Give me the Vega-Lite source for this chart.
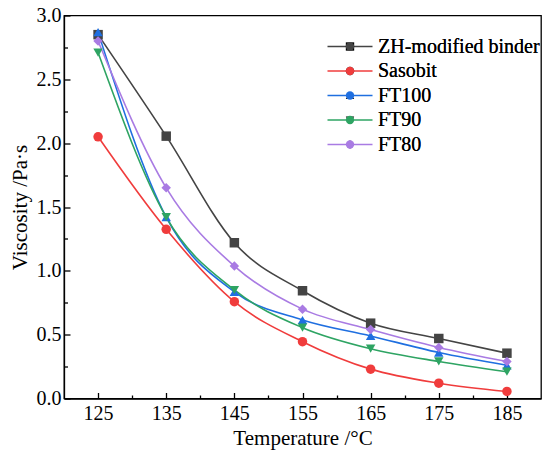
{
  "$schema": "https://vega.github.io/schema/vega-lite/v6.json",
  "width": 477,
  "height": 383,
  "autosize": {"type": "pad"},
  "padding": {"left": 9, "top": 5.5, "right": 5, "bottom": 5},
  "background": "white",
  "data": {
    "values": [
      {"T": 125, "series": "ZH-modified binder", "v": 2.85},
      {"T": 135, "series": "ZH-modified binder", "v": 2.055},
      {"T": 145, "series": "ZH-modified binder", "v": 1.22},
      {"T": 155, "series": "ZH-modified binder", "v": 0.844},
      {"T": 165, "series": "ZH-modified binder", "v": 0.59},
      {"T": 175, "series": "ZH-modified binder", "v": 0.47},
      {"T": 185, "series": "ZH-modified binder", "v": 0.355},
      {"T": 125, "series": "Sasobit", "v": 2.05},
      {"T": 135, "series": "Sasobit", "v": 1.325},
      {"T": 145, "series": "Sasobit", "v": 0.758},
      {"T": 155, "series": "Sasobit", "v": 0.445},
      {"T": 165, "series": "Sasobit", "v": 0.23},
      {"T": 175, "series": "Sasobit", "v": 0.12},
      {"T": 185, "series": "Sasobit", "v": 0.055},
      {"T": 125, "series": "FT100", "v": 2.87},
      {"T": 135, "series": "FT100", "v": 1.42},
      {"T": 145, "series": "FT100", "v": 0.836},
      {"T": 155, "series": "FT100", "v": 0.615},
      {"T": 165, "series": "FT100", "v": 0.49},
      {"T": 175, "series": "FT100", "v": 0.36},
      {"T": 185, "series": "FT100", "v": 0.26},
      {"T": 125, "series": "FT90", "v": 2.71},
      {"T": 135, "series": "FT90", "v": 1.42},
      {"T": 145, "series": "FT90", "v": 0.85},
      {"T": 155, "series": "FT90", "v": 0.555},
      {"T": 165, "series": "FT90", "v": 0.39},
      {"T": 175, "series": "FT90", "v": 0.29},
      {"T": 185, "series": "FT90", "v": 0.21},
      {"T": 125, "series": "FT80", "v": 2.8},
      {"T": 135, "series": "FT80", "v": 1.65},
      {"T": 145, "series": "FT80", "v": 1.037},
      {"T": 155, "series": "FT80", "v": 0.70},
      {"T": 165, "series": "FT80", "v": 0.54},
      {"T": 175, "series": "FT80", "v": 0.40},
      {"T": 185, "series": "FT80", "v": 0.29}
    ]
  },
  "encoding": {
    "x": {
      "field": "T", "type": "quantitative",
      "scale": {"domain": [120, 190], "nice": false, "zero": false},
      "axis": {
        "values": [125, 130, 135, 140, 145, 150, 155, 160, 165, 170, 175, 180, 185],
        "labelExpr": "datum.value % 10 === 5 ? datum.label : ''",
        "tickSize": {"condition": {"test": "datum.value % 10 === 5", "value": -6}, "value": -3.5},
        "title": "Temperature /°C", "labelPadding": 11, "titlePadding": 4
      }
    },
    "y": {
      "field": "v", "type": "quantitative",
      "scale": {"domain": [0, 3], "nice": false},
      "axis": {
        "values": [0, 0.25, 0.5, 0.75, 1, 1.25, 1.5, 1.75, 2, 2.25, 2.5, 2.75, 3],
        "labelExpr": "round(datum.value * 4) % 2 === 0 ? format(datum.value, '.1f') : ''",
        "tickSize": {"condition": {"test": "round(datum.value * 4) % 2 === 0", "value": -6}, "value": -3.5},
        "title": "Viscosity /Pa·s", "labelPadding": 9, "titlePadding": 6
      }
    }
  },
  "layer": [
    {
      "mark": {"type": "line", "interpolate": "monotone", "strokeWidth": 1.6},
      "encoding": {
        "color": {
          "field": "series", "type": "nominal", "title": null,
          "scale": {"domain": ["ZH-modified binder", "Sasobit", "FT100", "FT90", "FT80"], "range": ["#444444", "#f03c3c", "#1f6fe0", "#2ea463", "#a97be3"]},
          "legend": {
            "orient": "none", "legendX": 276, "legendY": 21,
            "symbolType": "M-5,0H5", "symbolSize": 81, "symbolStrokeWidth": 1.6,
            "labelFont": "Liberation Serif", "labelFontSize": 20, "labelOpacity": 0,
            "labelOffset": 18, "rowPadding": 4.5, "labelLimit": 300
          }
        }
      }
    },
    {
      "mark": {"type": "point", "filled": true, "opacity": 1, "size": 90},
      "encoding": {
        "fill": {
          "field": "series", "type": "nominal", "title": null,
          "sort": ["ZH-modified binder", "Sasobit", "FT100", "FT90", "FT80"],
          "scale": {"range": ["#444444", "#f03c3c", "#1f6fe0", "#2ea463", "#a97be3"]},
          "legend": {
            "orient": "none", "legendX": 276, "legendY": 21,
            "symbolSize": 70, "symbolOpacity": 1,
            "labelFontSize": 20, "labelFont": "Liberation Serif", "labelColor": "black",
            "labelOffset": 18, "rowPadding": 4.5, "labelLimit": 300
          }
        },
        "shape": {
          "field": "series", "type": "nominal", "title": null,
          "sort": ["ZH-modified binder", "Sasobit", "FT100", "FT90", "FT80"],
          "scale": {"range": ["square", "circle", "triangle-up", "triangle-down", "diamond"]},
          "legend": {
            "orient": "none", "legendX": 276, "legendY": 21,
            "symbolSize": 70,
            "labelFontSize": 20, "labelFont": "Liberation Serif", "labelColor": "black",
            "labelOffset": 18, "rowPadding": 4.5, "labelLimit": 300
          }
        }
      }
    }
  ],
  "config": {
    "font": "Liberation Serif",
    "view": {"stroke": "black", "strokeWidth": 1.3},
    "legend": {"labelFont": "Liberation Serif", "labelFontSize": 20},
    "axis": {
      "grid": false,
      "labelFont": "Liberation Serif",
      "titleFont": "Liberation Serif",
      "labelFontSize": 20,
      "titleFontSize": 21,
      "titleFontWeight": "normal",
      "labelColor": "black",
      "titleColor": "black",
      "domainColor": "black",
      "tickColor": "black",
      "domainWidth": 1.3,
      "tickWidth": 1.3
    }
  }
}
